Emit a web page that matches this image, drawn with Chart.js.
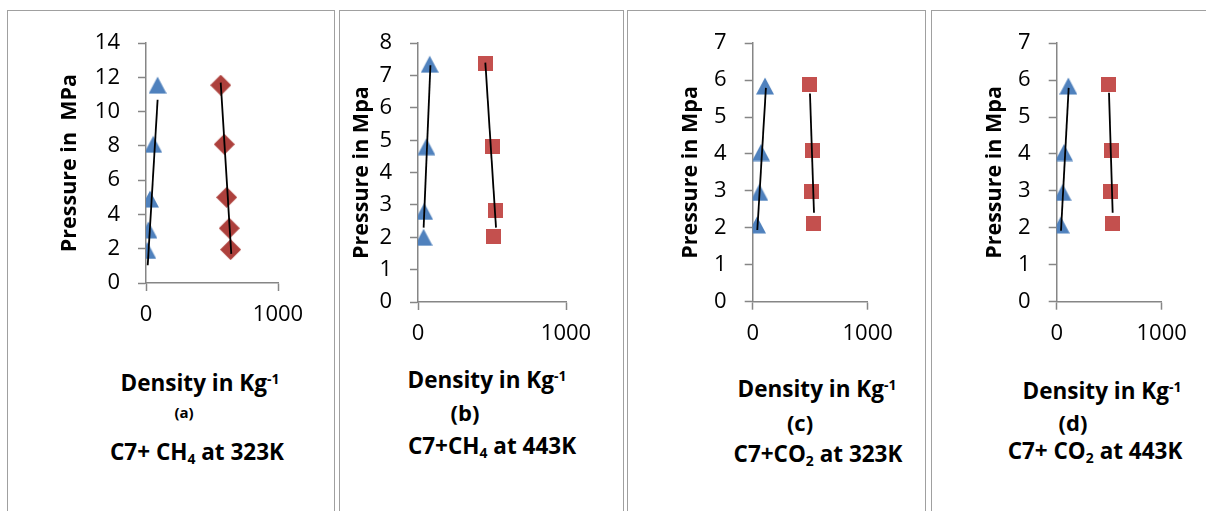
<!DOCTYPE html>
<html><head><meta charset="utf-8">
<script src="https://cdn.jsdelivr.net/npm/chart.js@4.4.0/dist/chart.umd.min.js"></script>
<style>
html,body{margin:0;padding:0;background:#fff;width:1206px;height:511px;overflow:hidden;position:relative}
.frame{position:absolute;top:10px;height:520px;border:1.5px solid #A0A0A0;border-bottom:none;box-sizing:border-box}
canvas{position:absolute}
.t{position:absolute;width:400px;text-align:center;font-family:'Open Sans';font-weight:bold;color:#000;white-space:nowrap;line-height:1}
.sup{font-size:0.62em;position:relative;top:-0.5em}
.sub{font-size:0.62em;position:relative;top:0.3em}
</style></head><body>
<div class="frame" style="left:7px;width:328px"></div>
<div class="frame" style="left:339px;width:285px"></div>
<div class="frame" style="left:627px;width:299px"></div>
<div class="frame" style="left:931px;width:290px"></div>
<canvas id="c1"></canvas><canvas id="c2"></canvas><canvas id="c3"></canvas><canvas id="c4"></canvas>

<div class="t" style="left:0px;top:372px;font-size:22.5px">Density in Kg<span class="sup">-1</span></div>
<div class="t" style="left:-16px;top:405px;font-size:15px">(a)</div>
<div class="t" style="left:-3px;top:441px;font-size:22.5px">C7+ CH<span class="sub">4</span> at 323K</div>

<div class="t" style="left:287px;top:369px;font-size:22.5px">Density in Kg<span class="sup">-1</span></div>
<div class="t" style="left:265px;top:401px;font-size:22px">(b)</div>
<div class="t" style="left:292px;top:435px;font-size:22.5px">C7+CH<span class="sub">4</span> at 443K</div>

<div class="t" style="left:617px;top:378px;font-size:22.5px">Density in Kg<span class="sup">-1</span></div>
<div class="t" style="left:600px;top:411px;font-size:22px">(c)</div>
<div class="t" style="left:618px;top:443px;font-size:22.5px">C7+CO<span class="sub">2</span> at 323K</div>

<div class="t" style="left:902px;top:380px;font-size:22.5px">Density in Kg<span class="sup">-1</span></div>
<div class="t" style="left:873px;top:411px;font-size:22px">(d)</div>
<div class="t" style="left:895px;top:440px;font-size:22.5px">C7+ CO<span class="sub">2</span> at 443K</div>

<script>
// ---- data (density, pressure) ----
// (a) C7+ CH4 at 323K
const aTriX = [10, 18, 30, 55, 88];
const aTriY = [1.9, 3.1, 4.9, 8.1, 11.55];
const aDiaX = [641, 631, 611, 593, 566];
const aDiaY = [1.95, 3.2, 5.0, 8.1, 11.55];
const aTrendTriX = [13, 88];
const aTrendTriY = [1.04, 10.7];
const aTrendDiaX = [566, 646];
const aTrendDiaY = [11.7, 1.7];
// (b) C7+CH4 at 443K
const bTriX = [38, 42, 57, 79];
const bTriY = [2.0, 2.8, 4.8, 7.35];
const bSqX = [509, 523, 500, 455];
const bSqY = [2.03, 2.84, 4.82, 7.38];
const bTrendTriX = [38, 84];
const bTrendTriY = [2.3, 7.32];
const bTrendSqX = [455, 527];
const bTrendSqY = [7.4, 2.3];
// (c) C7+CO2 at 323K
const cTriX = [37, 58, 72, 107];
const cTriY = [2.08, 2.96, 4.04, 5.84];
const cSqX = [527, 513, 522, 498];
const cSqY = [2.11, 2.99, 4.1, 5.88];
const cTrendTriX = [40, 115];
const cTrendTriY = [1.94, 5.79];
const cTrendSqX = [498, 533];
const cTrendSqY = [5.64, 2.41];
// (d) C7+ CO2 at 443K
const dTriX = [38, 57, 70, 111];
const dTriY = [2.08, 2.96, 4.04, 5.84];
const dSqX = [530, 514, 524, 498];
const dSqY = [2.11, 2.99, 4.1, 5.88];
const dTrendTriX = [41, 114];
const dTrendTriY = [1.92, 5.79];
const dTrendSqX = [498, 533];
const dTrendSqY = [5.66, 2.41];

const xTicks = [0, 1000];
const yTitles = ['Pressure in  MPa', 'Pressure in Mpa', 'Pressure in Mpa', 'Pressure in Mpa'];

const pts = (xs, ys) => xs.map((x, i) => ({x: x, y: ys[i]}));

// ---- marker images ----
function marker(kind, color) {
  const c = document.createElement('canvas');
  const s = kind === 'diamond' ? 21 : (kind === 'tri' ? 18 : 15);
  c.width = s; c.height = s;
  const g = c.getContext('2d');
  g.fillStyle = color;
  g.beginPath();
  if (kind === 'tri') { g.moveTo(9, 0.5); g.lineTo(18, 17.5); g.lineTo(0, 17.5); }
  else if (kind === 'diamond') { g.moveTo(10.5, 0); g.lineTo(21, 10.5); g.lineTo(10.5, 21); g.lineTo(0, 10.5); }
  else { g.rect(0, 0, 15, 15); }
  g.closePath(); g.fill();
  return c;
}
const triImg = marker('tri', '#4F81BD');
const diaImg = marker('diamond', '#AD403C');
const sqImg = marker('sq', '#C4504E');

const TOP = 12, BOTTOM = 352;
const panels = [
  {id:'c1', L:9,   R:333,  axisX:146,   axisTop:40,   axisY:283,   axisRight:278,   titleCX:70,  yMax:14, yStep:2,
   tri:[aTriX,aTriY], red:[aDiaX,aDiaY], redImg:diaImg, tt:[aTrendTriX,aTrendTriY], tr:[aTrendDiaX,aTrendDiaY]},
  {id:'c2', L:341, R:622,  axisX:418,   axisTop:40,   axisY:302,   axisRight:566,   titleCX:362, yMax:8, yStep:1,
   tri:[bTriX,bTriY], red:[bSqX,bSqY], redImg:sqImg, tt:[bTrendTriX,bTrendTriY], tr:[bTrendSqX,bTrendSqY]},
  {id:'c3', L:629, R:924,  axisX:752.7, axisTop:40,   axisY:301.7, axisRight:867.7, titleCX:691, yMax:7, yStep:1,
   tri:[cTriX,cTriY], red:[cSqX,cSqY], redImg:sqImg, tt:[cTrendTriX,cTrendTriY], tr:[cTrendSqX,cTrendSqY]},
  {id:'c4', L:933, R:1206, axisX:1056.7,axisTop:39.5, axisY:301.7, axisRight:1161.7,titleCX:995, yMax:7, yStep:1,
   tri:[dTriX,dTriY], red:[dSqX,dSqY], redImg:sqImg, tt:[dTrendTriX,dTrendTriY], tr:[dTrendSqX,dTrendSqY]}
];

const AX = '#868686';
panels.forEach((p, k) => {
  const cv = document.getElementById(p.id);
  cv.style.left = p.L + 'px'; cv.style.top = TOP + 'px';
  cv.width = p.R - p.L; cv.height = BOTTOM - TOP;
  cv.style.width = (p.R - p.L) + 'px'; cv.style.height = (BOTTOM - TOP) + 'px';
  const titleSize = 21.5, lh = titleSize * 1.2;
  new Chart(cv, {
    type: 'scatter',
    data: {
      datasets: [
        {data: pts(p.tt[0], p.tt[1]), showLine: true, borderColor: '#000', borderWidth: 1.8, pointRadius: 0, order: 0},
        {data: pts(p.tr[0], p.tr[1]), showLine: true, borderColor: '#000', borderWidth: 1.8, pointRadius: 0, order: 0},
        {data: pts(p.tri[0], p.tri[1]), pointStyle: triImg, pointRadius: 9, order: 1},
        {data: pts(p.red[0], p.red[1]), pointStyle: p.redImg, pointRadius: 9, order: 1}
      ]
    },
    options: {
      responsive: false, animation: false, devicePixelRatio: 1,
      layout: {padding: {left: 0, top: p.axisTop - TOP, right: p.R - p.axisRight, bottom: 0}},
      plugins: {legend: {display: false}, tooltip: {enabled: false}},
      scales: {
        x: {
          type: 'linear', min: xTicks[0], max: xTicks[xTicks.length - 1],
          afterBuildTicks: s => { s.ticks = xTicks.map(v => ({value: v})); },
          afterFit: s => { s.height = BOTTOM - p.axisY; },
          ticks: {color: '#000', font: {family: 'Open Sans', size: 22}, padding: 11, maxRotation: 0, callback: v => String(v)},
          grid: {drawOnChartArea: false, drawTicks: true, tickLength: 8, tickColor: AX, tickWidth: 1.5},
          border: {display: true, color: AX, width: 1.5}
        },
        y: {
          type: 'linear', min: 0, max: p.yMax,
          ticks: {stepSize: p.yStep, color: '#000', font: {family: 'Open Sans', size: 22}, padding: 18, callback: v => String(v)},
          afterFit: s => { s.width = p.axisX - p.L; },
          grid: {drawOnChartArea: false, drawTicks: true, tickLength: 8, tickColor: AX, tickWidth: 1.5},
          border: {display: true, color: AX, width: 1.5},
          title: {display: true, text: yTitles[k], color: '#000', font: {family: 'Open Sans', size: titleSize, weight: 'bold'},
                  padding: {top: p.titleCX - p.L - lh / 2, bottom: 0}}
        }
      }
    }
  });
});
</script>
</body></html>
